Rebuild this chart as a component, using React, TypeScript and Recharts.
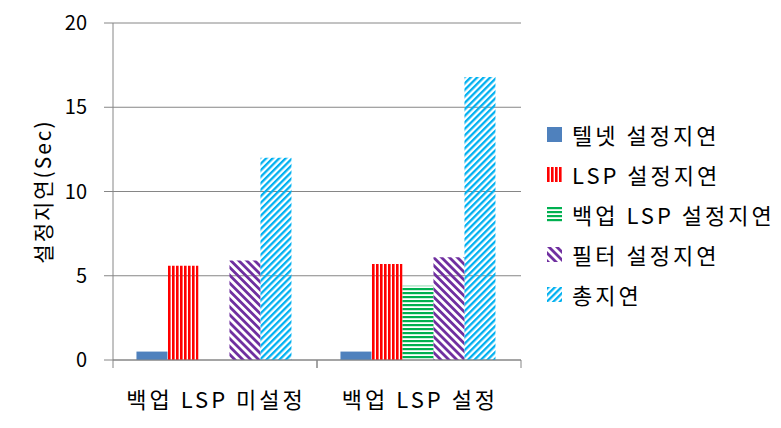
import { Bar, BarChart, CartesianGrid, Label, XAxis, YAxis } from "recharts";

const categories = ["백업 LSP 미설정", "백업 LSP 설정"];
const telnetDelay = [0.5, 0.5];
const lspDelay = [5.6, 5.7];
const backupLspDelay = [null, 4.4];
const filterDelay = [5.9, 6.1];
const totalDelay = [12.0, 16.8];
const yTicks = [0, 5, 10, 15, 20];

const SERIES = [
  { key: "telnet", name: "텔넷 설정지연", fill: "solid" },
  { key: "lsp", name: "LSP 설정지연", fill: "red" },
  { key: "backup", name: "백업 LSP 설정지연", fill: "green" },
  { key: "filter", name: "필터 설정지연", fill: "purple" },
  { key: "total", name: "총지연", fill: "blue" },
];

const data = categories.map((c, i) => ({
  name: c,
  telnet: telnetDelay[i],
  lsp: lspDelay[i],
  backup: backupLspDelay[i],
  filter: filterDelay[i],
  total: totalDelay[i],
}));

const FONT = "'Noto Sans CJK KR', 'Noto Sans', sans-serif";
const GRID = "#868686";

function Patterns({ p }: { p: string }) {
  return (
    <defs>
      <pattern id={`${p}-red`} patternUnits="userSpaceOnUse" width={4} height={4}>
        <rect x={0} y={0} width={2.6} height={4} fill="#FF0000" />
      </pattern>
      <pattern id={`${p}-green`} patternUnits="userSpaceOnUse" width={4} height={4}>
        <rect x={0} y={0} width={4} height={2.2} fill="#00B050" />
      </pattern>
      <pattern id={`${p}-purple`} patternUnits="userSpaceOnUse" width={5.6} height={5.6} patternTransform="rotate(-45)">
        <rect x={0} y={0} width={2.8} height={5.6} fill="#7030A0" />
      </pattern>
      <pattern id={`${p}-blue`} patternUnits="userSpaceOnUse" width={4.6} height={4.6} patternTransform="rotate(45)">
        <rect x={0} y={0} width={2.3} height={4.6} fill="#00B0F0" />
      </pattern>
    </defs>
  );
}

const fillFor = (p: string, f: string) => (f === "solid" ? "#4F81BD" : `url(#${p}-${f})`);

function XTick(props: any) {
  const { x, y, payload } = props;
  const half = payload.offset ?? 102;
  return (
    <g>
      <line x1={x - half} x2={x - half} y1={y} y2={y + 8} stroke={GRID} />
      <line x1={x + half} x2={x + half} y1={y} y2={y + 8} stroke={GRID} />
      <text x={x + 1} y={y + 48} textAnchor="middle" fontSize={22} letterSpacing={3} fill="#000" fontFamily={FONT}>
        {payload.value}
      </text>
    </g>
  );
}

function YLabel(props: any) {
  const vb = props.viewBox || {};
  const x = vb.x + 9;
  const y = vb.y + vb.height / 2;
  return (
    <text x={x} y={y} transform={`rotate(-90, ${x}, ${y})`} textAnchor="middle" dominantBaseline="central" fontSize={21} letterSpacing={2} fill="#000" fontFamily={FONT}>
      설정지연(Sec)
    </text>
  );
}

export default function App() {
  return (
    <div style={{ position: "absolute", left: 0, top: 0, width: 781, height: 428, background: "#fff", fontFamily: FONT }}>
      <BarChart width={781} height={428} data={data} margin={{ top: 23, right: 260, bottom: 0, left: 33 }} barCategoryGap="11.5%" barGap={0}>
        <Patterns p="bc" />
        <CartesianGrid vertical={false} stroke={GRID} />
        <XAxis dataKey="name" height={68} axisLine={{ stroke: GRID }} tickLine={false} tickSize={0} tickMargin={0} tick={<XTick />} interval={0} />
        <YAxis
          domain={[0, 20]}
          ticks={yTicks}
          width={80}
          axisLine={{ stroke: GRID }}
          tickLine={{ stroke: GRID }}
          tickSize={9}
          tickMargin={17}
          tick={{ fontSize: 20, fill: "#000", fontFamily: FONT }}
        >
          <Label content={<YLabel />} />
        </YAxis>
        {SERIES.map((s) => (
          <Bar key={s.key} dataKey={s.key} name={s.name} fill={fillFor("bc", s.fill)} isAnimationActive={false} />
        ))}
      </BarChart>
      <div style={{ position: "absolute", left: 547, top: 114 }}>
        {SERIES.map((s) => (
          <div key={s.key} style={{ display: "flex", alignItems: "center", height: 40 }}>
            <svg width={15} height={15} style={{ display: "block" }}>
              <Patterns p={`lg-${s.key}`} />
              <rect x={0} y={0} width={15} height={15} fill={fillFor(`lg-${s.key}`, s.fill)} />
            </svg>
            <span style={{ marginLeft: 10, fontSize: 22, letterSpacing: 3, color: "#000", whiteSpace: "nowrap" }}>{s.name}</span>
          </div>
        ))}
      </div>
    </div>
  );
}
